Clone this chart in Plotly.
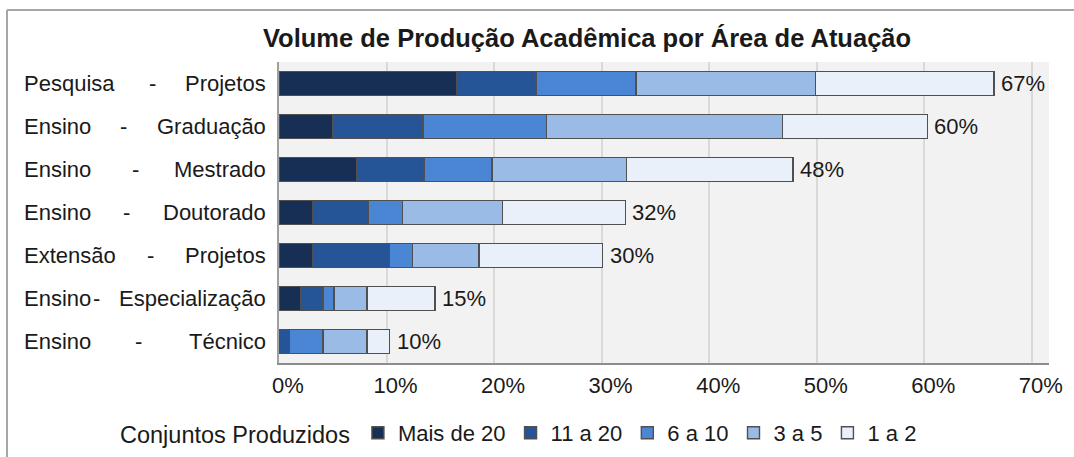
import plotly.graph_objects as go

categories = ["Pesquisa - Projetos", "Ensino - Graduação", "Ensino - Mestrado",
              "Ensino - Doutorado", "Extensão - Projetos", "Ensino - Especialização",
              "Ensino - Técnico"]
series_names = ["Mais de 20", "11 a 20", "6 a 10", "3 a 5", "1 a 2"]
mais_de_20 = [16.5, 5.0, 7.2, 3.1, 3.1, 2.0, 0.0]
de_11_a_20 = [7.4, 8.4, 6.3, 5.2, 7.2, 2.1, 1.0]
de_6_a_10 = [9.3, 11.5, 6.3, 3.2, 2.1, 1.0, 3.1]
de_3_a_5 = [16.7, 21.9, 12.5, 9.3, 6.2, 3.1, 4.1]
de_1_a_2 = [16.6, 13.5, 15.5, 11.4, 11.5, 6.3, 2.1]
total_labels = ["67%", "60%", "48%", "32%", "30%", "15%", "10%"]
x_ticks = [0, 10, 20, 30, 40, 50, 60, 70]

series = [mais_de_20, de_11_a_20, de_6_a_10, de_3_a_5, de_1_a_2]
colors = ["#182f55", "#255597", "#4a86d4", "#9abbe6", "#eaf0fa"]

# layout geometry (pixels)
W, H = 1074, 457
L, R, T, B = 279, 25, 62, 94
PW, PH = W - L - R, H - T - B
def px(xp):
    return (xp - L) / PW
def py(yp):
    return (H - B - yp) / PH

FONT = "Liberation Sans, Arial, sans-serif"
TXT = "#1a1a1a"

fig = go.Figure()
for name, vals, col in zip(series_names, series, colors):
    fig.add_trace(go.Bar(
        y=categories, x=vals, name=name, orientation="h",
        marker=dict(color=col, line=dict(color="#505050", width=1.4)),
        hoverinfo="x+y+name",
    ))

totals = [sum(v) for v in zip(*series)]
annotations = []
for cat, tot, lab in zip(categories, totals, total_labels):
    annotations.append(dict(x=tot, y=cat, xref="x", yref="y", text=lab,
                            showarrow=False, xanchor="left", xshift=5,
                            font=dict(size=22, color=TXT, family=FONT)))

# justified category labels
dash_px = [152, 123, 135, 126, 150, 96, 138]
for cat, dpx in zip(categories, dash_px):
    left, right = cat.split(" - ")
    annotations.append(dict(x=px(22), y=cat, xref="paper", yref="y", text=left,
                            showarrow=False, xanchor="left",
                            font=dict(size=22, color=TXT, family=FONT)))
    annotations.append(dict(x=px(dpx), y=cat, xref="paper", yref="y", text="-",
                            showarrow=False, xanchor="center",
                            font=dict(size=22, color=TXT, family=FONT)))
    annotations.append(dict(x=px(268), y=cat, xref="paper", yref="y", text=right,
                            showarrow=False, xanchor="right",
                            font=dict(size=22, color=TXT, family=FONT)))

annotations.append(dict(x=px(587), y=py(38), xref="paper", yref="paper",
                        text="<b>Volume de Produção Acadêmica por Área de Atuação</b>",
                        showarrow=False, xanchor="center", yanchor="middle",
                        font=dict(size=25.5, color=TXT, family=FONT)))

shapes = [
    dict(type="line", xref="paper", yref="paper", x0=px(7), x1=px(1090),
         y0=py(10), y1=py(10), line=dict(color="#a6a6a6", width=2)),
    dict(type="line", xref="paper", yref="paper", x0=px(7), x1=px(7),
         y0=py(10), y1=py(470), line=dict(color="#a6a6a6", width=2)),
]

fig.update_layout(
    width=W, height=H,
    margin=dict(l=L, r=R, t=T, b=B, autoexpand=False),
    barmode="stack", bargap=0.435,
    paper_bgcolor="white", plot_bgcolor="#f2f2f2",
    font=dict(family=FONT, color=TXT, size=22),
    annotations=annotations, shapes=shapes,
    legend=dict(orientation="h", x=px(118), y=py(433), xanchor="left", yanchor="middle",
                title=dict(text="Conjuntos Produzidos", side="left",
                           font=dict(size=23.5, color=TXT, family=FONT)),
                font=dict(size=22, color=TXT, family=FONT),
                traceorder="normal", bgcolor="rgba(0,0,0,0)"),
    showlegend=True,
)
fig.update_xaxes(range=[0, 71.6], tickvals=x_ticks, ticktext=[f"{v}%" for v in x_ticks],
                 showgrid=True, gridcolor="#d9d9d9", gridwidth=1.5,
                 showline=True, linecolor="#8c8c8c", linewidth=2, zeroline=False,
                 ticks="", ticklabelstandoff=2, ticklabelshift=9,
                 tickfont=dict(size=22, color=TXT, family=FONT), fixedrange=True)
fig.update_yaxes(autorange="reversed", showticklabels=False, showgrid=False,
                 showline=True, linecolor="#a0a0a0", linewidth=1.5, ticks="")

fig.write_html("out.html", config={"displayModeBar": False},
               post_script="document.body.style.margin='0';document.body.style.overflow='hidden';")
